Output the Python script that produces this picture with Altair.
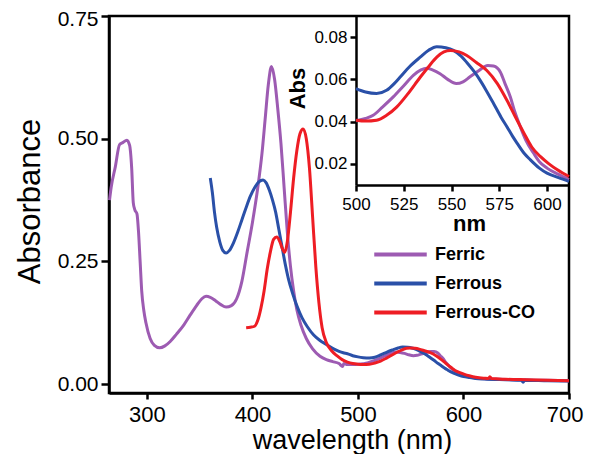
import altair as alt
import pandas as pd

series_names = ["Ferric", "Ferrous", "Ferrous-CO"]
series_colors = ["#9D5BB2", "#2A50A8", "#EE1D24"]

ferric_nm = [264.5, 266, 270, 274, 277, 281, 283.5, 285.5, 287, 288.5, 290.5, 292, 293.5, 295, 297, 299,
             303, 307, 312, 317, 322, 328, 335, 341, 347, 352, 356, 360, 365, 370, 375, 380, 385, 390,
             395, 400, 405, 409, 412, 415, 418, 421, 424, 427, 430, 433, 436, 439, 442, 446, 451, 457,
             464, 470, 476, 482, 485.5, 486.5, 490, 495, 500, 505, 509, 514, 519.5, 525, 530, 534, 537,
             540, 544, 548, 552.5, 556, 559.5, 564, 569, 572, 575.6, 578, 580.8, 583, 586, 589, 593, 596,
             600, 606, 611.5, 620, 640, 656, 660, 680, 700]
ferric_abs = [0.375, 0.40, 0.443, 0.488, 0.492, 0.497, 0.487, 0.44, 0.37, 0.355, 0.347, 0.31, 0.25, 0.19,
              0.15, 0.125, 0.093, 0.079, 0.074, 0.078, 0.087, 0.102, 0.121, 0.141, 0.160, 0.174, 0.179,
              0.177, 0.170, 0.162, 0.157, 0.160, 0.174, 0.21, 0.27, 0.33, 0.40, 0.47, 0.54, 0.61, 0.647,
              0.62, 0.56, 0.49, 0.40, 0.31, 0.24, 0.19, 0.152, 0.12, 0.093, 0.072, 0.057, 0.050, 0.046,
              0.042, 0.036, 0.042, 0.040, 0.040, 0.0404, 0.0415, 0.043, 0.047, 0.0517, 0.057, 0.0619,
              0.0645, 0.0653, 0.0645, 0.0627, 0.060, 0.058, 0.0588, 0.0611, 0.064, 0.0666, 0.0663,
              0.0634, 0.058, 0.0517, 0.045, 0.0376, 0.031, 0.025, 0.021, 0.018, 0.015, 0.0125, 0.011,
              0.0095, 0.0085, 0.0083, 0.0078, 0.0072]

ferrous_nm = [360, 362, 364, 366, 369, 372, 375, 378, 382, 386, 390, 394, 398, 402, 406, 410, 413, 416,
              419, 422, 425, 428, 431, 434, 438, 442, 447, 452, 458, 464, 470, 476, 482, 486, 490, 495,
              500, 505, 510.8, 516, 520, 523, 528, 533.6, 538, 542.3, 547, 551, 555, 558, 562, 565, 568,
              572, 576, 579, 582, 584.4, 588, 591.3, 596, 600, 606, 611.5, 620, 640, 655, 656.5, 658,
              680, 700]
ferrous_abs = [0.42, 0.39, 0.35, 0.32, 0.29, 0.272, 0.267, 0.272, 0.288, 0.31, 0.335, 0.36, 0.383, 0.40,
               0.412, 0.416, 0.41, 0.395, 0.375, 0.35, 0.315, 0.28, 0.245, 0.215, 0.185, 0.16, 0.135,
               0.117, 0.100, 0.089, 0.081, 0.073, 0.067, 0.064, 0.062, 0.058, 0.0556, 0.054, 0.0533,
               0.0548, 0.058, 0.061, 0.066, 0.0705, 0.0738, 0.0755, 0.075, 0.0737, 0.071, 0.068, 0.0635,
               0.0595, 0.055, 0.0486, 0.042, 0.0376, 0.033, 0.0297, 0.025, 0.0219, 0.018, 0.0156,
               0.0135, 0.0117, 0.0105, 0.009, 0.008, 0.004, 0.008, 0.007, 0.0065]

co_nm = [394, 398, 402, 405, 408, 411, 414, 417, 420, 423, 426, 428.5, 430.5, 433, 436, 439, 442, 445,
         448, 451, 454, 457, 460, 463, 466, 470, 475, 480, 485, 490, 495, 500, 505, 510.8, 516, 521.4,
         527, 533.6, 538, 542.3, 546, 549.4, 554, 558, 563, 568.5, 574, 579, 583, 588, 592, 596.6, 601,
         605.4, 611.5, 620, 623.5, 625, 626.5, 640, 660, 680, 700]
co_abs = [0.115, 0.116, 0.118, 0.13, 0.155, 0.19, 0.235, 0.27, 0.295, 0.30, 0.29, 0.275, 0.268, 0.29,
          0.35, 0.42, 0.475, 0.51, 0.52, 0.50, 0.44, 0.34, 0.24, 0.165, 0.115, 0.085, 0.068, 0.058,
          0.050, 0.045, 0.042, 0.0407, 0.0403, 0.0407, 0.043, 0.047, 0.053, 0.061, 0.066, 0.0705, 0.073,
          0.0737, 0.073, 0.0713, 0.068, 0.0642, 0.058, 0.0501, 0.043, 0.0344, 0.028, 0.0234, 0.020,
          0.0172, 0.014, 0.012, 0.0115, 0.015, 0.0115, 0.010, 0.009, 0.008, 0.007]

rows = []
for name, wl, ab in [("Ferric", ferric_nm, ferric_abs),
                     ("Ferrous", ferrous_nm, ferrous_abs),
                     ("Ferrous-CO", co_nm, co_abs)]:
    for w, a in zip(wl, ab):
        rows.append({"series": name, "wl": w, "abs": a})
df = pd.DataFrame(rows)
inset_df = df[(df["wl"] >= 500) & (df["wl"] <= 611.5)]

FONT = "Arial, Liberation Sans, sans-serif"
color_scale = alt.Scale(domain=series_names, range=series_colors)

main = alt.Chart(df).mark_line(strokeWidth=3, interpolate="monotone").encode(
    x=alt.X("wl:Q",
            scale=alt.Scale(domain=[264, 700], nice=False, zero=False),
            axis=alt.Axis(values=[300, 400, 500, 600, 700], title="wavelength (nm)",
                          tickSize=6, labelFontSize=22, labelPadding=5,
                          labelFlush=True, labelFlushOffset=14,
                          titleFontSize=27, titleFontWeight="normal", titleBaseline="alphabetic",
                          titleX=243, titleY=55)),
    y=alt.Y("abs:Q",
            scale=alt.Scale(domain=[-0.018, 0.75], nice=False, zero=False),
            axis=alt.Axis(values=[0, 0.25, 0.5, 0.75], format=".2f", title="Absorbance",
                          tickSize=8, labelFontSize=21, labelPadding=3,
                          labelFlush=True, labelFlushOffset=8,
                          titleFontSize=31, titleFontWeight="normal", titlePadding=11, titleY=185)),
    color=alt.Color("series:N", scale=color_scale, sort=series_names,
                    legend=alt.Legend(title=None, orient="none", legendX=279, legendY=226,
                                      symbolType="M-2.5,0H2.5", symbolSize=441,
                                      symbolStrokeWidth=4, labelOffset=22, rowPadding=7,
                                      labelFontSize=18, labelFontWeight="bold", labelFont=FONT,
                                      labelColor="black", padding=0)),
)

inset = alt.Chart(inset_df).mark_line(strokeWidth=3, interpolate="monotone").encode(
    x=alt.X("wl:Q",
            scale=alt.Scale(domain=[500, 611.5], range=[247, 460], nice=False, zero=False),
            axis=alt.Axis(orient="bottom", offset=-208, values=[500, 525, 550, 575, 600],
                          title="nm", tickSize=6, labelFontSize=17, labelPadding=5, labelFlush=False,
                          titleFontSize=22, titleFontWeight="bold", titleBaseline="alphabetic",
                          titleX=360, titleY=45)),
    y=alt.Y("abs:Q",
            scale=alt.Scale(domain=[0.010, 0.090], range=[169, 0], nice=False, zero=False),
            axis=alt.Axis(orient="left", offset=-247, values=[0.02, 0.04, 0.06, 0.08], format=".2f",
                          title="Abs", tickSize=6, labelFontSize=17, labelPadding=3, labelFlush=False,
                          titleFontSize=22, titleFontWeight="bold", titlePadding=4, titleY=72)),
    color=alt.Color("series:N", scale=color_scale, sort=series_names),
)

chart = alt.layer(main, inset).resolve_scale(x="independent", y="independent").properties(
    width=460, height=377,
    autosize=alt.AutoSizeParams(type="none"),
    padding={"left": 101, "top": 8, "right": 15, "bottom": 61},
    background="white",
).configure_view(
    stroke="black", strokeWidth=2.5
).configure_axis(
    grid=False, domainColor="black", domainWidth=2.5, tickColor="black", tickWidth=2.5,
    labelColor="black", titleColor="black", labelFont=FONT, titleFont=FONT
)

chart.save("out.html", embed_options={"renderer": "svg", "actions": False})
